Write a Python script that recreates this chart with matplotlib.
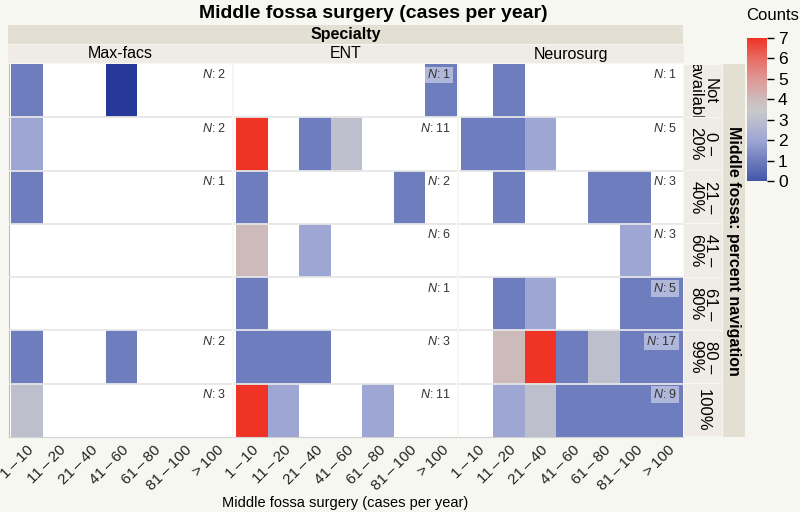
import matplotlib
matplotlib.use("Agg")
import matplotlib.pyplot as plt
import matplotlib.transforms as mtransforms
import numpy as np
from matplotlib.colors import LinearSegmentedColormap, Normalize
from matplotlib.cm import ScalarMappable
from matplotlib.patches import Rectangle

plt.rcParams['font.family'] = ['Liberation Sans', 'DejaVu Sans']
plt.rcParams['mathtext.fontset'] = 'custom'
plt.rcParams['mathtext.it'] = 'Liberation Sans:italic'
plt.rcParams['mathtext.rm'] = 'Liberation Sans'

# ---- data ----
x_bins = ["1\u2009–\u200910", "11\u2009–\u200920", "21\u2009–\u200940", "41\u2009–\u200960",
          "61\u2009–\u200980", "81\u2009–\u2009100", ">\u2009100"]
row_labels = ["Not\navailabl", "0 –\n20%", "21 –\n40%", "41 –\n60%",
              "61 –\n80%", "80 –\n99%", "100%"]
specialties = ["Max-facs", "ENT", "Neurosurg"]

counts_maxfacs = [[1, 0, 0, 1, 0, 0, 0],
                  [2, 0, 0, 0, 0, 0, 0],
                  [1, 0, 0, 0, 0, 0, 0],
                  [0, 0, 0, 0, 0, 0, 0],
                  [0, 0, 0, 0, 0, 0, 0],
                  [1, 0, 0, 1, 0, 0, 0],
                  [3, 0, 0, 0, 0, 0, 0]]
counts_ent = [[0, 0, 0, 0, 0, 0, 1],
              [7, 0, 1, 3, 0, 0, 0],
              [1, 0, 0, 0, 0, 1, 0],
              [4, 0, 2, 0, 0, 0, 0],
              [1, 0, 0, 0, 0, 0, 0],
              [1, 1, 1, 0, 0, 0, 0],
              [7, 2, 0, 0, 2, 0, 0]]
counts_neuro = [[0, 1, 0, 0, 0, 0, 0],
                [1, 1, 2, 0, 0, 0, 0],
                [0, 1, 0, 0, 1, 1, 0],
                [0, 0, 0, 0, 0, 2, 0],
                [0, 1, 2, 0, 0, 1, 1],
                [0, 4, 7, 1, 3, 1, 1],
                [0, 2, 3, 1, 1, 1, 1]]
n_maxfacs = [2, 2, 1, None, None, 2, 3]
n_ent = [1, 11, 2, 6, 1, 3, 11]
n_neuro = [1, 5, 3, 3, 5, 17, 9]
# cell shown as selected (darker) in the reference: (panel, row, col)
selected = [(0, 0, 3)]

panels = [(counts_maxfacs, n_maxfacs), (counts_ent, n_ent), (counts_neuro, n_neuro)]

cmap = LinearSegmentedColormap.from_list("bgr", [
    (0.0, "#4257a8"), (1 / 7, "#6f7dbd"), (2 / 7, "#9ea6d4"), (3 / 7, "#bdbfcc"),
    (3.5 / 7, "#c9c9c9"), (4 / 7, "#cdbbbb"), (5 / 7, "#df9896"),
    (6 / 7, "#e86b64"), (1.0, "#ef3325")])
norm = Normalize(0, 7)

W, H = 800, 512
fig = plt.figure(figsize=(8, 5.12), dpi=100, facecolor="#f7f7f2")


def box(x0, y0, x1, y1):
    return [x0 / W, 1 - y1 / H, (x1 - x0) / W, (y1 - y0) / H]


def strip(x0, y0, x1, y1, color):
    a = fig.add_axes(box(x0, y0, x1, y1))
    a.set_facecolor(color)
    a.set_xticks([]); a.set_yticks([])
    for s in a.spines.values():
        s.set_visible(False)
    return a


fig.text(373 / W, 1 - 14 / H, "Middle fossa surgery (cases per year)",
         ha="center", va="center", fontsize=14, fontweight="bold")

sp = strip(8, 25, 683, 44, "#e3e0d3")
sp.text(0.5, 0.5, "Specialty", ha="center", va="center", fontsize=11.5,
        fontweight="bold", transform=sp.transAxes)

px = [(9, 232), (234, 457), (459, 683)]
top, bot = 64, 437
rh = (bot - top) / 7
shift = mtransforms.ScaledTranslation(7 / 100, 0, fig.dpi_scale_trans)

for i, (name, (x0, x1)) in enumerate(zip(specialties, px)):
    st = strip(x0 - 1, 45, x1 + 1, 63, "#eeece4")
    st.text(0.5, 0.5, name, ha="center", va="center", fontsize=11.5, transform=st.transAxes)

    counts, ns = panels[i]
    C = np.ma.masked_equal(np.array(counts, dtype=float), 0)
    ax = fig.add_axes(box(x0, top, x1, bot))
    ax.set_facecolor("white")
    ax.pcolormesh(np.arange(8), np.arange(8), C, cmap=cmap, norm=norm,
                  edgecolors="none", linewidth=0, antialiased=False)
    for (p, r, c) in selected:
        if p == i:
            ax.add_patch(Rectangle((c, r), 1, 1, fc="#26399a", ec="none", lw=0))
    ax.set_xlim(-0.07, 7)
    ax.set_ylim(7, 0)
    for r in range(1, 7):
        ax.axhline(r, color="#e6e6e6", lw=1.3, zorder=5)
    for r, n in enumerate(ns):
        if n is None:
            continue
        boxed = counts[r][-1] > 0
        ax.annotate(r"$\mathit{N}$: " + str(n), xy=(7, r), xytext=(-6, -11),
                    textcoords="offset pixels", ha="right", va="center",
                    fontsize=9, color="#333333", zorder=6,
                    bbox=dict(boxstyle="square,pad=0.15", fc="white", ec="none", alpha=0.45)
                    if boxed else None)
    ax.set_yticks([])
    ax.set_xticks(np.arange(7) + 0.5)
    ax.set_xticklabels(x_bins, rotation=45, ha="right", va="top",
                       rotation_mode="anchor", fontsize=11, color="#222222")
    for lab in ax.get_xticklabels():
        lab.set_transform(lab.get_transform() + shift)
    ax.tick_params(axis="x", length=0, pad=4)
    for s in ["top", "right"]:
        ax.spines[s].set_visible(False)
    ax.spines["left"].set_visible(i == 0)
    ax.spines["left"].set_color("#bdbdbd")
    ax.spines["bottom"].set_color("#d0d0d0")

# row label strips
for r, lab in enumerate(row_labels):
    y0 = top + r * rh
    st = strip(684, y0 + 0.6, 722, y0 + rh - 0.6, "#eeece4")
    st.text(0.5, 0.5, lab, ha="center", va="center", fontsize=12, rotation=-90,
            linespacing=0.95, transform=st.transAxes, clip_on=True)

ob = strip(723, top, 745, bot, "#e3e0d3")
ob.text(0.5, 0.5, "Middle fossa: percent navigation", ha="center", va="center",
        fontsize=11.5, fontweight="bold", rotation=-90, transform=ob.transAxes)

fig.text(345 / W, 1 - 503 / H, "Middle fossa surgery (cases per year)",
         ha="center", va="center", fontsize=10.5)

# colorbar
cax = fig.add_axes(box(747, 38, 767, 181))
cb = fig.colorbar(ScalarMappable(norm=norm, cmap=cmap), cax=cax, ticks=range(8))
cb.outline.set_visible(False)
cax.tick_params(labelsize=12.5, length=5, width=1, pad=3)
for t, v in zip(cax.yaxis.get_major_ticks(), range(8)):
    t.tick2line.set_color(cmap(norm(v)))
fig.text(773 / W, 1 - 15 / H, "Counts", ha="center", va="center", fontsize=12)

fig.savefig("out.png", dpi=100, facecolor=fig.get_facecolor())
